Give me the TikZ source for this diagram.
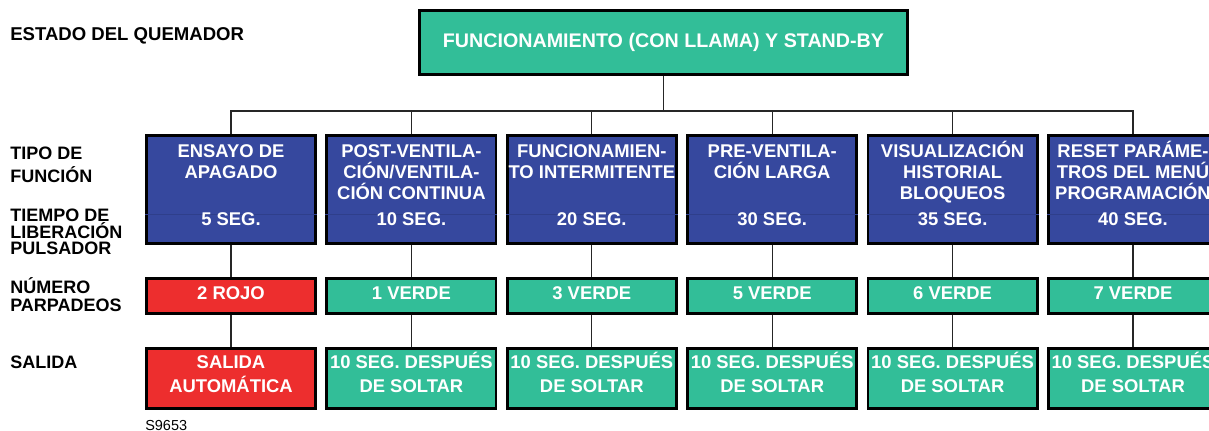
\documentclass[tikz,border=0pt]{standalone}
\usepackage{fontspec}
\setmainfont{Liberation Sans}
\usetikzlibrary{positioning}
\definecolor{quemblue}{RGB}{54,72,158}
\definecolor{quemgreen}{RGB}{50,190,152}
\definecolor{quemred}{RGB}{237,46,46}
\newcommand{\hd}{\rule{0pt}{14pt}}
\lineskiplimit=-20pt

\begin{document}
\begin{tikzpicture}[x=0.025cm,y=-0.025cm,
    every node/.style={inner sep=0pt},
    boxtxt/.style={text=white,align=center,
      font=\fontsize{13.1}{14.9}\selectfont\bfseries},
    lbl/.style={align=left,anchor=north west,
      font=\fontsize{12.8}{16.3}\selectfont\bfseries},
    cell/.style={draw=black,line width=2pt,minimum width=4.225cm},
    tipo/.style={cell,fill=quemblue,minimum height=2.7cm},
    flash/.style={cell,minimum height=0.875cm,text height=9.4pt,text depth=4.6pt},
    salida/.style={cell,minimum height=1.5cm},
    link/.style={line width=0.8pt,black!85}]
  \useasboundingbox (0,0) rectangle (1209,430);

  % row labels on the left
  \node[lbl,anchor=base west,font=\fontsize{13.2}{15}\selectfont\bfseries]
        (estado) at (10,40.9) {ESTADO DEL QUEMADOR};
  \node[lbl] (tipofun) at (10,139.3) {\hd TIPO DE\\FUNCIÓN};
  \node[lbl,font=\fontsize{12.8}{11.8}\selectfont\bfseries]
        (tiempo) at (10,201.6) {\hd TIEMPO DE\\LIBERACIÓN\\PULSADOR};
  \node[lbl,font=\fontsize{12.8}{12.8}\selectfont\bfseries]
        (numero) at (10,273.6) {\hd NÚMERO\\PARPADEOS};
  \node[lbl,anchor=base west] (salidalbl) at (10,368.4) {SALIDA};
  \node[anchor=base west,font=\fontsize{10.3}{12}\selectfont] (ref) at (145,430.5) {S9653};

  % burner state
  \node[draw=black,line width=2pt,fill=quemgreen,minimum width=12.2cm,minimum height=1.6cm,
        boxtxt,font=\fontsize{14}{16}\selectfont\bfseries] (top) at (663.5,42.5)
        {FUNCIONAMIENTO (CON LLAMA) Y STAND-BY};
  \coordinate (bar) at (663,111);

  % one column per function
  \foreach \i/\title/\secs/\col/\num/\sal in {
      1/{ENSAYO DE\\APAGADO}/5/quemred/2 ROJO/{SALIDA\\AUTOMÁTICA},
      2/{POST-VENTILA-\\CIÓN/VENTILA-\\CIÓN CONTINUA}/10/quemgreen/1 VERDE/{10 SEG. DESPUÉS\\DE SOLTAR},
      3/{FUNCIONAMIEN-\\TO INTERMITENTE}/20/quemgreen/3 VERDE/{10 SEG. DESPUÉS\\DE SOLTAR},
      4/{PRE-VENTILA-\\CIÓN LARGA}/30/quemgreen/5 VERDE/{10 SEG. DESPUÉS\\DE SOLTAR},
      5/{VISUALIZACIÓN\\HISTORIAL\\BLOQUEOS}/35/quemgreen/6 VERDE/{10 SEG. DESPUÉS\\DE SOLTAR},
      6/{RESET PARÁME-\\TROS DEL MENÚ\\PROGRAMACIÓN}/40/quemgreen/7 VERDE/{10 SEG. DESPUÉS\\DE SOLTAR}}{
    \pgfmathsetmacro{\cx}{231+180.4*(\i-1)}
    \node[tipo] (t\i) at (\cx,189.5) {};
    \draw[quemblue!88!black,line width=0.3pt] (t\i.west |- 0,214) -- (t\i.east |- 0,214);
    \node[boxtxt,anchor=north] (tt\i) at (\cx,137.5) {\hd\title};
    \node[boxtxt] (ts\i) at (\cx,219.3) {\secs\ SEG.};
    \node[flash,fill=\col,boxtxt] (n\i) at (\cx,296) {\num};
    \node[salida,fill=\col] (s\i) at (\cx,378.5) {};
    \node[boxtxt,anchor=north,font=\fontsize{13.1}{17}\selectfont\bfseries] (sl\i) at (\cx,348.5) {\hd\sal};
    \draw[link] (t\i.south) -- (n\i.north);
    \draw[link] (n\i.south) -- (s\i.north);
  }

  % tree from the burner state to the functions
  \draw[link] (top.south) -- (top.south |- bar);
  \draw[link] (t1.north) -- (t1.north |- bar) -| (t6.north);
  \foreach \i in {2,...,5} {\draw[link] (t\i.north) -- (t\i.north |- bar);}
\end{tikzpicture}
\end{document}
